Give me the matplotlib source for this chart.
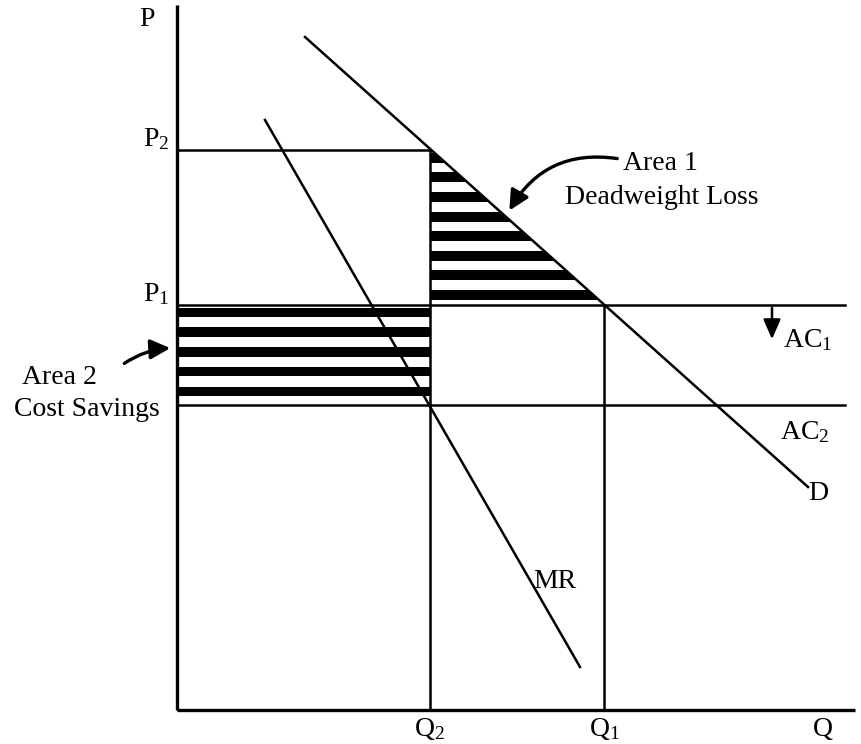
import numpy as np
import matplotlib
matplotlib.use("Agg")
import matplotlib.pyplot as plt
from matplotlib.patches import Polygon, FancyArrowPatch

plt.rcParams['font.family'] = ['Liberation Serif', 'DejaVu Serif']
plt.rcParams['mathtext.fontset'] = 'custom'
plt.rcParams['mathtext.rm'] = 'Liberation Serif'
plt.rcParams['mathtext.it'] = 'Liberation Serif:italic'

# quantities and prices (diagram units, origin at the axes corner)
q_levels = {"Q2": 253, "Q1": 427}
p_levels = {"P2": 560, "P1": 405, "AC2": 305}
q_max = 678
p_max = 705
ac_end = 668

# demand and marginal revenue curves (two end points each)
demand_q = [128, 631]
demand_p = [673, 223]
mr_q = [88, 403]
mr_p = [590, 43]

Q2, Q1 = q_levels["Q2"], q_levels["Q1"]
P2, P1, AC2 = p_levels["P2"], p_levels["P1"], p_levels["AC2"]


def demand_at(q):
    return np.interp(q, demand_q, demand_p)


fig = plt.figure(figsize=(8.61, 7.44), dpi=100)
ax = fig.add_axes([0, 0, 1, 1])
ax.set_xlim(-177, 684)
ax.set_ylim(-34, 710)
ax.axis("off")

lw = 1.8
k = "black"

# axes
ax.plot([0, 0], [0, p_max], color=k, lw=2.4, solid_capstyle="butt")
ax.plot([0, q_max], [0, 0], color=k, lw=2.4, solid_capstyle="butt")

# curves
ax.plot(demand_q, demand_p, color=k, lw=lw)
ax.plot(mr_q, mr_p, color=k, lw=lw)

# horizontal levels
ax.plot([0, Q2], [P2, P2], color=k, lw=lw)
ax.plot([0, ac_end], [P1, P1], color=k, lw=lw)
ax.plot([0, ac_end], [AC2, AC2], color=k, lw=lw)

# vertical levels
ax.plot([Q2, Q2], [0, P2], color=k, lw=lw)
ax.plot([Q1, Q1], [0, P1], color=k, lw=lw)

# Area 1: deadweight loss triangle, striped
tri = Polygon([[Q2, P1], [Q1, P1], [Q1, demand_at(Q1)], [Q2, demand_at(Q2)]],
              closed=True, facecolor="none", edgecolor="none",
              transform=ax.transData)
ax.add_patch(tri)
for y0 in np.arange(P1 + 5, P2, 19.6):
    stripe = ax.fill_between([Q2, Q1], y0, y0 + 10, color=k, lw=0)
    stripe.set_clip_path(tri)

# Area 2: cost savings rectangle, striped
for y0 in np.arange(AC2 + 9, P1 - 5, 19.7):
    ax.fill_between([0, Q2], y0, y0 + 9.5, color=k, lw=0)

fs = 20
ax.text(-30, 690, "P", fontsize=fs, ha="center", va="center")
ax.text(-8, P2 - 2, "P$_2$", fontsize=fs, ha="right", va="bottom")
ax.text(-8, P1 - 2, "P$_1$", fontsize=fs, ha="right", va="bottom")
ax.text(Q2, -19, "Q$_2$", fontsize=fs, ha="center", va="center")
ax.text(Q1, -19, "Q$_1$", fontsize=fs, ha="center", va="center")
ax.text(646, -19, "Q", fontsize=fs, ha="center", va="center")
ax.text(606, 370, "AC$_1$", fontsize=fs, ha="left", va="center")
ax.text(603, 278, "AC$_2$", fontsize=fs, ha="left", va="center")
ax.text(631, 216, "D", fontsize=fs, ha="left", va="center")
ax.text(378, 128, "MR", fontsize=fs, ha="center", va="center")

ax.text(483, 547, "Area 1", fontsize=fs, ha="center", va="center")
ax.text(485, 513, "Deadweight Loss", fontsize=fs, ha="center", va="center")
ax.text(-118, 332, "Area 2", fontsize=fs, ha="center", va="center")
ax.text(-90, 300, "Cost Savings", fontsize=fs, ha="center", va="center")

# arrows
ax.add_patch(FancyArrowPatch((443, 551), (331, 497),
                             connectionstyle="arc3,rad=0.35",
                             arrowstyle="-|>,head_length=8,head_width=4",
                             color=k, lw=2.4, mutation_scale=1.5))
ax.add_patch(FancyArrowPatch((-55, 345), (-4, 362),
                             connectionstyle="arc3,rad=-0.15",
                             arrowstyle="-|>,head_length=8,head_width=4",
                             color=k, lw=2.4, mutation_scale=1.5))
ax.add_patch(FancyArrowPatch((595, P1), (595, 368),
                             arrowstyle="-|>,head_length=8,head_width=3.5",
                             color=k, lw=1.8, mutation_scale=1.5))

fig.savefig("out.png", dpi=100)
plt.close(fig)
